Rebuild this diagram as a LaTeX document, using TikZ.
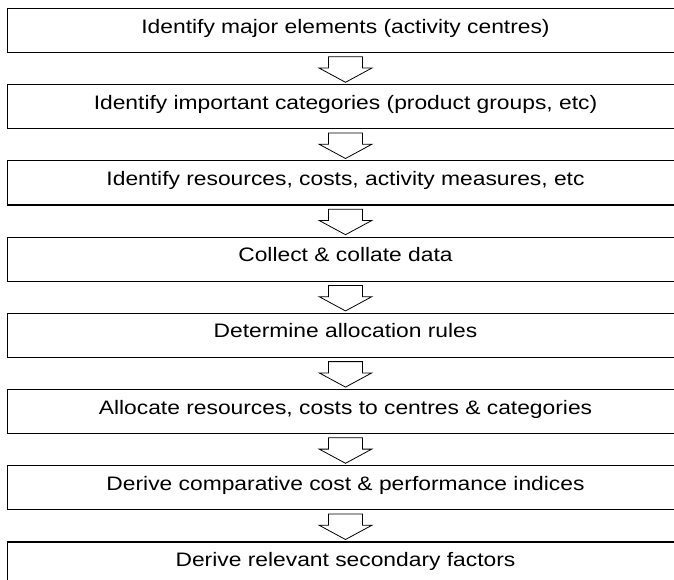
\documentclass[tikz,border=0pt]{standalone}
\usepackage{fontspec}
\setmainfont{Liberation Sans}[FakeStretch=1.17]
\usetikzlibrary{calc}
\begin{document}
\begin{tikzpicture}[x=1pt,y=-1pt,
  stepbox/.style={draw=black, line width=1.2pt, minimum width=676.4pt, minimum height=44pt,
    inner sep=0pt, outer sep=0pt, anchor=north, text height=0.74em, text depth=0.21em,
    font=\fontsize{19.5}{22}\selectfont},
  flowarrow/.style={draw=black, line width=0.8pt, fill=white, line join=miter}]
\useasboundingbox (0,0) rectangle (674,580);
\node[stepbox] (b1) at (345.5,8.5) {Identify major elements (activity centres)};
\node[stepbox] (b2) at (345.5,84.7) {Identify important categories (product groups, etc)};
\node[stepbox] (b3) at (345.5,160.9) {Identify resources, costs, activity measures, etc};
\node[stepbox] (b4) at (345.5,237.1) {Collect \& collate data};
\node[stepbox] (b5) at (345.5,313.3) {Determine allocation rules};
\node[stepbox] (b6) at (345.5,389.5) {Allocate resources, costs to centres \& categories};
\node[stepbox] (b7) at (345.5,465.7) {Derive comparative cost \& performance indices};
\node[stepbox] (b8) at (345.5,541.9) {Derive relevant secondary factors};
\foreach \a/\b in {b1/b2,b2/b3,b3/b4,b4/b5,b5/b6,b6/b7,b7/b8}{
  \draw[flowarrow] ($(\a.south)+(-17,4.3)$) -- ($(\a.south)+(-17,15.6)$)
    -- ($(\a.south)+(-26.3,15.6)$) -- ($(\b.north)+(0,-2.4)$)
    -- ($(\a.south)+(26.3,15.6)$) -- ($(\a.south)+(17,15.6)$)
    -- ($(\a.south)+(17,4.3)$) -- cycle;
}
\end{tikzpicture}
\end{document}
